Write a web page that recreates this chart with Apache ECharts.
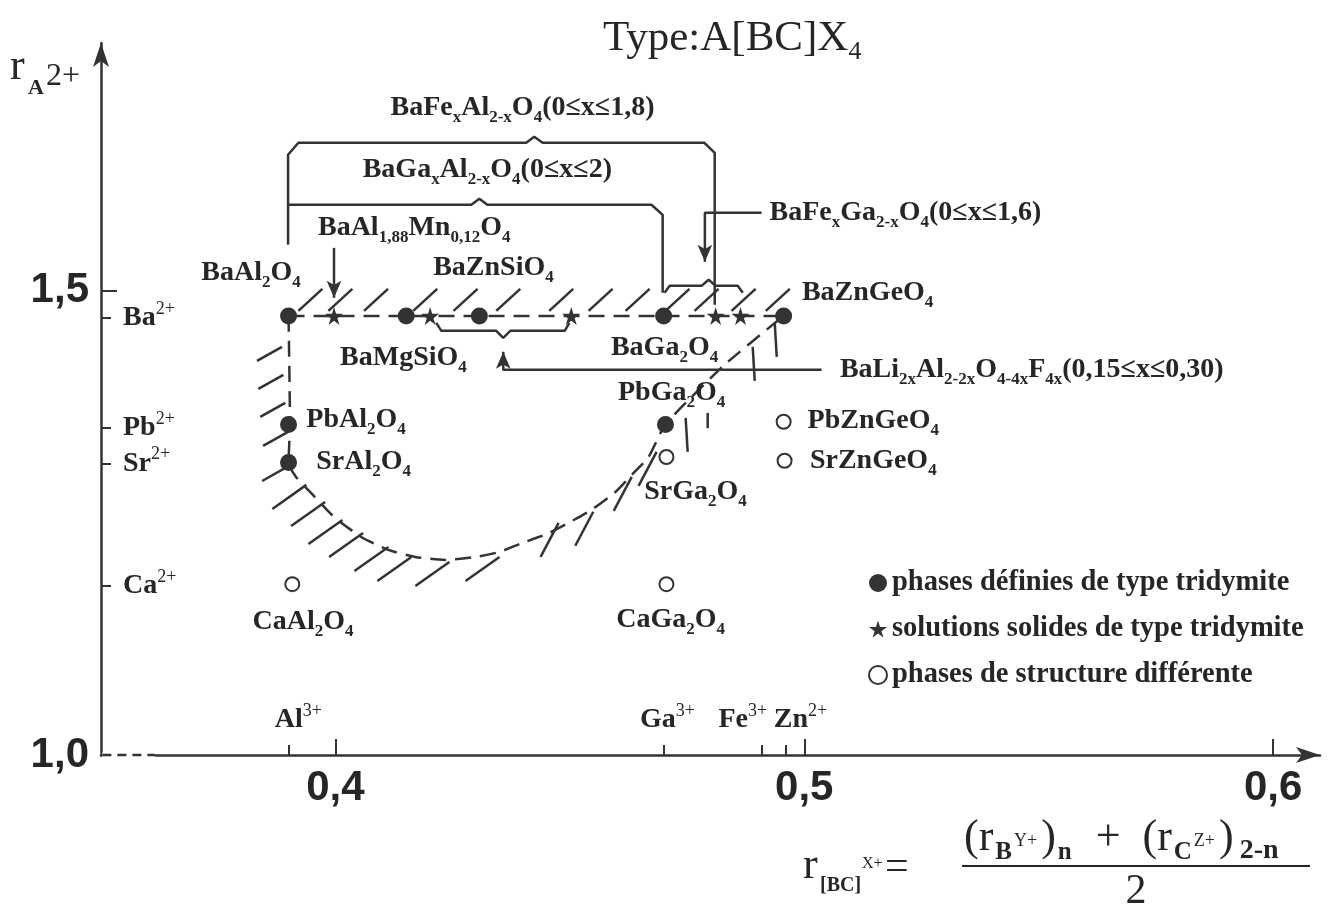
<!DOCTYPE html>
<html><head><meta charset="utf-8"><title>Type A[BC]X4</title>
<script src="https://cdn.jsdelivr.net/npm/echarts@6/dist/echarts.min.js"></script>
<style>html,body{margin:0;padding:0;background:#fff}#chart{width:1337px;height:910px}</style>
</head><body><div id="chart"></div>
<script>
// ---------------- data ----------------
const xRange = [0.35, 0.61];
const yRange = [1.0, 1.767];
const xMajorTicks = [0.4, 0.5, 0.6];
const xMajorLabels = ['0,4', '0,5', '0,6'];
const yMajorTicks = [1.5];
const yMajorLabelValues = [1.0, 1.5];
const yMajorLabels = ['1,0', '1,5'];
const xIonTicks = [0.39, 0.47, 0.491, 0.496];
const yIonTicks = [1.471, 1.352, 1.314, 1.182];
const yIonLabels = ['Ba^{2+}', 'Pb^{2+}', 'Sr^{2+}', 'Ca^{2+}'];
const xIonLabels = [[0.3921, 1.0377, 'Al^{3+}'], [0.4708, 1.0377, 'Ga^{3+}'], [0.4869, 1.0377, 'Fe^{3+}'], [0.4992, 1.0377, 'Zn^{2+}']];

const seriesNames = ['phases définies de type tridymite', 'solutions solides de type tridymite', 'phases de structure différente'];
const filledPts = [[0.39, 1.473], [0.4151, 1.473], [0.4307, 1.473], [0.47, 1.473], [0.4956, 1.473], [0.39, 1.356], [0.39, 1.315], [0.4704, 1.356]];
const starPts = [[0.3997, 1.473], [0.4202, 1.473], [0.4503, 1.473], [0.4811, 1.473], [0.4864, 1.473]];
const openPts = [[0.3908, 1.184], [0.4706, 1.184], [0.4706, 1.321], [0.4956, 1.359], [0.4958, 1.317]];

const boundaryTop = [[0.39, 1.473], [0.4956, 1.473]];
const boundaryLoop = [[0.39, 1.473], [0.3903, 1.356], [0.39, 1.315], [0.3916, 1.2996], [0.3948, 1.2823], [0.3997, 1.2565], [0.4055, 1.2349], [0.4113, 1.2209], [0.4170, 1.2134], [0.4234, 1.2101], [0.4301, 1.2134], [0.4350, 1.2188], [0.4399, 1.2285], [0.4456, 1.2392], [0.4497, 1.2500], [0.4546, 1.2640], [0.4595, 1.2823], [0.4636, 1.3039], [0.4668, 1.3211], [0.4704, 1.356], [0.4830, 1.4203], [0.4956, 1.473]];

const hatchTop = [[0.3921, 1.4785], [0.3985, 1.4785], [0.4061, 1.4785], [0.4166, 1.4785], [0.4252, 1.4785], [0.4343, 1.4785], [0.4456, 1.4785], [0.4540, 1.4785], [0.4619, 1.4785], [0.4704, 1.4785], [0.4766, 1.4785], [0.4845, 1.4785], [0.4918, 1.4785]];
const hatchTopDelta = [0.00512, 0.0237];
const hatchLeft = [[0.3886, 1.4397], [0.3889, 1.4095], [0.3893, 1.3793], [0.3899, 1.3481], [0.3897, 1.3103]];
const hatchLeftDelta = [-0.00533, -0.0151];
const hatchBottom = [[0.3938, 1.2910], [0.3978, 1.2726], [0.4015, 1.2532], [0.4059, 1.2392], [0.4113, 1.2241], [0.4162, 1.2134], [0.4243, 1.2080], [0.4350, 1.2134]];
const hatchBottomDelta = [-0.00725, -0.0259];
const hatchRise = [[0.4476, 1.2500], [0.4550, 1.2620], [0.4632, 1.2996], [0.4685, 1.3265]];
const hatchRiseDelta = [-0.00384, -0.0366];
const hatchRight = [[0.4747, 1.3632], [0.4890, 1.4397], [0.4937, 1.4655]];
const hatchRightDelta = [0.00043, -0.0366];
const hatchRightShort = [[0.4794, 1.3685]];
const hatchRightShortDelta = [0.0, -0.0165];

const bracketFeAl = [[0.3899, 1.5496], [0.3899, 1.6466], [0.3921, 1.6595], [0.4407, 1.6595], [0.4424, 1.6660], [0.4442, 1.6595], [0.4787, 1.6595], [0.4809, 1.6487], [0.4809, 1.4849]];
const bracketGaAl = [[0.3899, 1.5927], [0.4290, 1.5927], [0.4307, 1.5991], [0.4324, 1.5927], [0.4674, 1.5927], [0.4698, 1.5819], [0.4698, 1.4979]];
const braceFeGa = [[0.4702, 1.4979], [0.4713, 1.5054], [0.4781, 1.5054], [0.4796, 1.5119], [0.4811, 1.5054], [0.4858, 1.5054], [0.4869, 1.4979]];
const braceLi = [[0.4215, 1.4655], [0.4226, 1.4569], [0.4343, 1.4569], [0.4358, 1.4494], [0.4373, 1.4569], [0.4489, 1.4569], [0.4499, 1.4655]];
const arrowAlMn = [[0.3997, 1.5463], [0.3997, 1.4925]];
const arrowFeGa = [[0.4909, 1.5841], [0.4788, 1.5841], [0.4788, 1.5313]];
const arrowLi = [[0.5037, 1.4149], [0.4358, 1.4149], [0.4358, 1.4343]];
const axisDashStart = [[0.3503, 1.0], [0.3615, 1.0]];

const labelsCenter = [
  [0.4399, 1.6972, 'BaFe_{x}Al_{2-x}O_{4}(0≤x≤1,8)'],
  [0.4324, 1.6304, 'BaGa_{x}Al_{2-x}O_{4}(0≤x≤2)'],
  [0.4168, 1.5679, 'BaAl_{1,88}Mn_{0,12}O_{4}'],
  [0.3820, 1.5194, 'BaAl_{2}O_{4}'],
  [0.4337, 1.5248, 'BaZnSiO_{4}'],
  [0.4145, 1.4278, 'BaMgSiO_{4}'],
  [0.4702, 1.4386, 'BaGa_{2}O_{4}'],
  [0.4717, 1.3901, 'PbGa_{2}O_{4}'],
  [0.4768, 1.2834, 'SrGa_{2}O_{4}'],
  [0.3931, 1.1433, 'CaAl_{2}O_{4}'],
  [0.4715, 1.1455, 'CaGa_{2}O_{4}']
];
const labelsLeft = [
  [0.4926, 1.5841, 'BaFe_{x}Ga_{2-x}O_{4}(0≤x≤1,6)'],
  [0.4995, 1.4979, 'BaZnGeO_{4}'],
  [0.5076, 1.4149, 'BaLi_{2x}Al_{2-2x}O_{4-4x}F_{4x}(0,15≤x≤0,30)'],
  [0.3938, 1.3610, 'PbAl_{2}O_{4}'],
  [0.5007, 1.3599, 'PbZnGeO_{4}'],
  [0.3959, 1.3157, 'SrAl_{2}O_{4}'],
  [0.5012, 1.3168, 'SrZnGeO_{4}']
];

// ---------------- rendering ----------------
const SERIF = "'Liberation Serif','Times New Roman',serif";
const SANS = "'Liberation Sans',Arial,sans-serif";
const INK = '#262626';
const MARK = '#333333';

const RICH = {
  m: {fontFamily: SERIF, fontWeight: 'bold', fontSize: 28, lineHeight: 36, color: INK},
  s: {fontFamily: SERIF, fontWeight: 'bold', fontSize: 17, lineHeight: 17, verticalAlign: 'bottom', color: INK},
  p: {fontFamily: SERIF, fontWeight: 'normal', fontSize: 18, lineHeight: 26, verticalAlign: 'top', color: INK}
};
function rich(str) {
  let out = '', buf = '', i = 0;
  const flush = () => { if (buf) { out += '{m|' + buf + '}'; buf = ''; } };
  while (i < str.length) {
    const c = str[i];
    if ((c === '_' || c === '^') && str[i + 1] === '{') {
      flush();
      const j = str.indexOf('}', i);
      out += '{' + (c === '_' ? 's' : 'p') + '|' + str.slice(i + 2, j) + '}';
      i = j + 1;
    } else { buf += c; i++; }
  }
  flush();
  return out;
}
function nearest(arr, v) {
  let b = 0;
  arr.forEach((a, i) => { if (Math.abs(a - v) < Math.abs(arr[b] - v)) b = i; });
  return b;
}
function lineSeries(data, style) {
  return {type: 'line', data: data, symbol: 'none', showSymbol: true, clip: false, silent: true, z: 2,
    lineStyle: Object.assign({color: MARK, width: 2.5}, style || {})};
}
function arrowSeries(pts, rot) {
  const d = pts.map((p, i) => i === pts.length - 1
    ? {value: p, symbol: 'arrow', symbolSize: [11, 17], symbolRotate: rot, itemStyle: {color: MARK, opacity: 1}}
    : {value: p});
  return lineSeries(d);
}
function hatchSeries(pts, delta) {
  return {
    type: 'custom', silent: true, clip: false, z: 3, data: pts,
    renderItem: function (params, api) {
      const x = api.value(0), y = api.value(1);
      const a = api.coord([x, y]);
      const b = api.coord([x + delta[0], y + delta[1]]);
      return {type: 'line', shape: {x1: a[0], y1: a[1], x2: b[0], y2: b[1]}, style: {stroke: MARK, lineWidth: 2.5}};
    }
  };
}
function labelSeries(list, align) {
  return {
    type: 'scatter', silent: true, z: 6, symbolSize: 0, itemStyle: {opacity: 1},
    data: list.map(l => ({value: [l[0], l[1]], name: l[2]})),
    label: {show: true, position: 'inside', align: align, verticalAlign: 'middle', opacity: 1,
      formatter: p => rich(p.name), rich: RICH}
  };
}
const STAR = 'path://M50,0 L61,35 L98,35 L68,57 L79,91 L50,70 L21,91 L32,57 L2,35 L39,35 Z';

const option = {
  animation: false,
  backgroundColor: '#ffffff',
  title: {
    text: '{t|Type:A[BC]X}{s|4}', left: 598, top: 8,
    textStyle: {rich: {
      t: {fontFamily: SERIF, fontWeight: 'normal', fontSize: 43, color: INK, lineHeight: 52},
      s: {fontFamily: SERIF, fontWeight: 'normal', fontSize: 26, color: INK, lineHeight: 22, verticalAlign: 'bottom'}
    }}
  },
  legend: {
    data: seriesNames, orient: 'vertical', left: 863, top: 563, itemWidth: 18, itemHeight: 18, itemGap: 16,
    selectedMode: false,
    textStyle: {fontFamily: SERIF, fontWeight: 'bold', fontSize: 28.5, lineHeight: 30, color: INK}
  },
  grid: {left: 101, right: 17, top: 43, bottom: 155},
  xAxis: [
    {type: 'value', min: xRange[0], max: xRange[1], position: 'bottom', splitLine: {show: false},
      axisLine: {show: true, symbol: ['none', 'arrow'], symbolSize: [12, 24], lineStyle: {color: MARK, width: 2.5}},
      axisTick: {show: true, inside: true, length: 16, customValues: xMajorTicks, lineStyle: {color: MARK, width: 2}},
      axisLabel: {show: true, customValues: xMajorTicks, margin: 12, formatter: v => xMajorLabels[nearest(xMajorTicks, v)],
        fontFamily: SANS, fontWeight: 'bold', fontSize: 42, color: INK}},
    {type: 'value', min: xRange[0], max: xRange[1], position: 'bottom', splitLine: {show: false},
      axisLine: {show: false},
      axisTick: {show: true, inside: true, length: 10, customValues: xIonTicks, lineStyle: {color: MARK, width: 2}},
      axisLabel: {show: false}}
  ],
  yAxis: [
    {type: 'value', min: yRange[0], max: yRange[1], position: 'left', splitLine: {show: false},
      axisLine: {show: true, symbol: ['none', 'arrow'], symbolSize: [12, 24], lineStyle: {color: MARK, width: 2.5}},
      axisTick: {show: true, inside: true, length: 16, customValues: yMajorTicks, lineStyle: {color: MARK, width: 2}},
      axisLabel: {show: true, customValues: yMajorLabelValues, margin: 12, formatter: v => yMajorLabels[nearest(yMajorLabelValues, v)],
        fontFamily: SANS, fontWeight: 'bold', fontSize: 42, color: INK}},
    {type: 'value', min: yRange[0], max: yRange[1], position: 'left', splitLine: {show: false},
      axisLine: {show: false},
      axisTick: {show: true, inside: true, length: 10, customValues: yIonTicks, lineStyle: {color: MARK, width: 2}},
      axisLabel: {show: true, inside: true, margin: 22, customValues: yIonTicks,
        formatter: v => rich(yIonLabels[nearest(yIonTicks, v)]), rich: RICH}}
  ],
  graphic: [
    {type: 'text', x: 10, y: 67, style: {text: 'r', fontFamily: SERIF, fontSize: 44, fill: INK, verticalAlign: 'middle', align: 'left'}},
    {type: 'text', x: 28, y: 88, style: {text: 'A', fontFamily: SERIF, fontWeight: 'bold', fontSize: 22, fill: INK, verticalAlign: 'middle', align: 'left'}},
    {type: 'text', x: 46, y: 77, style: {text: '2+', fontFamily: SERIF, fontSize: 32, fill: INK, verticalAlign: 'middle', align: 'left'}},
    {type: 'text', x: 803, y: 866, style: {text: 'r', fontFamily: SERIF, fontSize: 44, fill: INK, verticalAlign: 'middle', align: 'left'}},
    {type: 'text', x: 820, y: 886, style: {text: '[BC]', fontFamily: SERIF, fontWeight: 'bold', fontSize: 20, fill: INK, verticalAlign: 'middle', align: 'left'}},
    {type: 'text', x: 862, y: 864, style: {text: 'X+', fontFamily: SERIF, fontSize: 16, fill: INK, verticalAlign: 'middle', align: 'left'}},
    {type: 'text', x: 885, y: 868, style: {text: '=', fontFamily: SERIF, fontSize: 42, fill: INK, verticalAlign: 'middle', align: 'left'}},
    {type: 'text', x: 964, y: 838, style: {
      text: '{a|(r}{b|B}{c|Y+}{a|)}{b|n}{a|  +  (r}{b|C}{c|Z+}{a|)}{d|2-n}',
      verticalAlign: 'middle', align: 'left',
      rich: {
        a: {fontFamily: SERIF, fontSize: 44, lineHeight: 54, fill: INK},
        b: {fontFamily: SERIF, fontWeight: 'bold', fontSize: 25, lineHeight: 24, verticalAlign: 'bottom', fill: INK, padding: [0, 2, 0, 2]},
        d: {fontFamily: SERIF, fontWeight: 'bold', fontSize: 28, lineHeight: 24, verticalAlign: 'bottom', fill: INK, padding: [0, 0, 0, 6]},
        c: {fontFamily: SERIF, fontSize: 18, lineHeight: 17, verticalAlign: 'middle', fill: INK, padding: [6, 4, 0, 0]}
      }}},
    {type: 'line', shape: {x1: 962, y1: 866, x2: 1310, y2: 866}, style: {stroke: INK, lineWidth: 2}},
    {type: 'text', x: 1136, y: 892, style: {text: '2', fontFamily: SERIF, fontSize: 42, fill: INK, verticalAlign: 'middle', align: 'center'}}
  ],
  series: [
    lineSeries(axisDashStart, {color: '#ffffff', width: 6}),
    lineSeries(axisDashStart, {color: MARK, width: 2.5, type: [9, 6]}),
    lineSeries(boundaryTop, {type: [16, 9]}),
    Object.assign(lineSeries(boundaryLoop, {type: [16, 9]}), {smooth: 0.2}),
    lineSeries(bracketFeAl),
    lineSeries(bracketGaAl),
    lineSeries(braceFeGa),
    lineSeries(braceLi),
    arrowSeries(arrowAlMn, 180),
    arrowSeries(arrowFeGa, 180),
    arrowSeries(arrowLi, 0),
    hatchSeries(hatchTop, hatchTopDelta),
    hatchSeries(hatchLeft, hatchLeftDelta),
    hatchSeries(hatchBottom, hatchBottomDelta),
    hatchSeries(hatchRise, hatchRiseDelta),
    hatchSeries(hatchRight, hatchRightDelta),
    hatchSeries(hatchRightShort, hatchRightShortDelta),
    {name: seriesNames[0], type: 'scatter', data: filledPts, symbol: 'circle', symbolSize: 17, z: 4,
      itemStyle: {color: MARK, opacity: 1}},
    {name: seriesNames[1], type: 'scatter', data: starPts, symbol: STAR, symbolSize: 18, z: 4,
      itemStyle: {color: MARK, opacity: 1}},
    {name: seriesNames[2], type: 'scatter', data: openPts, symbol: 'emptyCircle', symbolSize: 14, z: 4,
      itemStyle: {color: MARK, borderWidth: 1.5, opacity: 1}},
    labelSeries(labelsCenter, 'center'),
    labelSeries(labelsLeft, 'left'),
    labelSeries(xIonLabels, 'center')
  ]
};
const chart = echarts.init(document.getElementById('chart'), null, {renderer: 'canvas'});
chart.setOption(option);
</script></body></html>
